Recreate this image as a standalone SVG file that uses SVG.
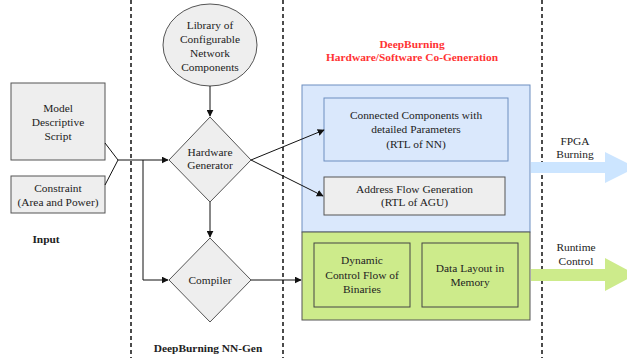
<svg xmlns="http://www.w3.org/2000/svg" width="627" height="358" viewBox="0 0 627 358" font-family="'Liberation Serif', 'Times New Roman', Times, serif">
  <style>
    text { font-family: 'Liberation Serif', 'Times New Roman', Times, serif; font-size: 11.4px; fill: #222; text-anchor: middle; }
    .bold { font-weight: bold; }
    .red { fill: #ff3333; font-weight: bold; }
    .gray { fill: #eeeeee; stroke: #555; stroke-width: 1; }
    .divider { stroke: #111; stroke-width: 1.5; stroke-dasharray: 4 3; fill: none; }
    .link { stroke: #111; stroke-width: 1; fill: none; }
  </style>
  <defs>
    <marker id="arrow" viewBox="0 0 10 10" refX="9" refY="5" markerWidth="7" markerHeight="7" orient="auto" markerUnits="userSpaceOnUse">
      <path d="M0,0 L10,5 L0,10 z" fill="#111"/>
    </marker>
  </defs>

  <rect width="627" height="358" fill="#ffffff"/>

  <!-- stage dividers -->
  <g id="dividers">
    <line class="divider" x1="131" y1="0" x2="131" y2="358"/>
    <line class="divider" x1="283" y1="0" x2="283" y2="358"/>
    <line class="divider" x1="542" y1="0" x2="542" y2="358"/>
  </g>

  <!-- co-generation panels -->
  <g id="hw-panel">
    <rect x="302" y="85" width="228" height="147" fill="#dae8fc" stroke="#6c8ebf" stroke-width="1"/>
  </g>
  <g id="sw-panel">
    <rect x="302" y="232" width="228" height="88" fill="#cdeb8b" stroke="#555" stroke-width="1"/>
  </g>

  <g id="title">
    <text class="red" x="412" y="48">DeepBurning</text>
    <text class="red" x="412" y="61">Hardware/Software Co-Generation</text>
  </g>

  <g id="model-script">
    <rect class="gray" x="11" y="83" width="94" height="77"/>
    <text x="58" y="112">Model</text>
    <text x="58" y="126">Descriptive</text>
    <text x="58" y="140">Script</text>
  </g>

  <g id="constraint">
    <rect class="gray" x="11" y="176" width="94" height="37"/>
    <text x="58" y="192">Constraint</text>
    <text x="58" y="206">(Area and Power)</text>
  </g>

  <g id="input-label">
    <text class="bold" x="46" y="243">Input</text>
  </g>

  <g id="library">
    <ellipse class="gray" cx="210" cy="45" rx="47" ry="41"/>
    <text x="210" y="29">Library of</text>
    <text x="210" y="43">Configurable</text>
    <text x="210" y="57">Network</text>
    <text x="210" y="71">Components</text>
  </g>

  <g id="hardware-generator">
    <polygon class="gray" points="210,117 251,160 210,202 169,160"/>
    <text x="210" y="156">Hardware</text>
    <text x="210" y="169">Generator</text>
  </g>

  <g id="compiler">
    <polygon class="gray" points="210,238 251,280 210,322 169,280"/>
    <text x="210" y="284">Compiler</text>
  </g>

  <g id="nngen-label">
    <text class="bold" x="208" y="352">DeepBurning NN-Gen</text>
  </g>

  <g id="rtl-nn">
    <rect x="324" y="98" width="184" height="63" fill="#dae8fc" stroke="#6c8ebf" stroke-width="1"/>
    <text x="416" y="119">Connected Components with</text>
    <text x="416" y="133">detailed Parameters</text>
    <text x="416" y="148">(RTL of NN)</text>
  </g>

  <g id="rtl-agu">
    <rect class="gray" x="324" y="177" width="181" height="38"/>
    <text x="414.5" y="193">Address Flow Generation</text>
    <text x="414.5" y="206">(RTL of AGU)</text>
  </g>

  <g id="control-flow">
    <rect x="314" y="243" width="96" height="64" fill="#cdeb8b" stroke="#444" stroke-width="1"/>
    <text x="362" y="264">Dynamic</text>
    <text x="362" y="279">Control Flow of</text>
    <text x="362" y="293">Binaries</text>
  </g>

  <g id="data-layout">
    <rect x="422" y="243" width="96" height="64" fill="#cdeb8b" stroke="#444" stroke-width="1"/>
    <text x="470" y="272">Data Layout in</text>
    <text x="470" y="286">Memory</text>
  </g>

  <!-- output arrows -->
  <g id="fpga-burning">
    <polygon points="531,162 605,162 605,152 636,167.5 605,183 605,173 531,173" fill="#cce5ff"/>
    <text x="575" y="145">FPGA</text>
    <text x="575" y="158">Burning</text>
  </g>
  <g id="runtime-control">
    <polygon points="531,269 605,269 605,258 636,274.5 605,291 605,281 531,281" fill="#cdeb8b"/>
    <text x="576" y="251">Runtime</text>
    <text x="576" y="265">Control</text>
  </g>

  <g id="connectors">
    <polyline class="link" points="105,143 118,160 105,185"/>
    <line class="link" x1="118" y1="160" x2="168" y2="160" marker-end="url(#arrow)"/>
    <polyline class="link" points="143,160 143,280 168,280" marker-end="url(#arrow)"/>
    <line class="link" x1="210" y1="86" x2="210" y2="116" marker-end="url(#arrow)"/>
    <line class="link" x1="210" y1="202" x2="210" y2="237" marker-end="url(#arrow)"/>
    <line class="link" x1="251" y1="160" x2="324" y2="130" marker-end="url(#arrow)"/>
    <line class="link" x1="251" y1="160" x2="323" y2="196" marker-end="url(#arrow)"/>
    <line class="link" x1="251" y1="280" x2="301" y2="280" marker-end="url(#arrow)"/>
  </g>
</svg>
